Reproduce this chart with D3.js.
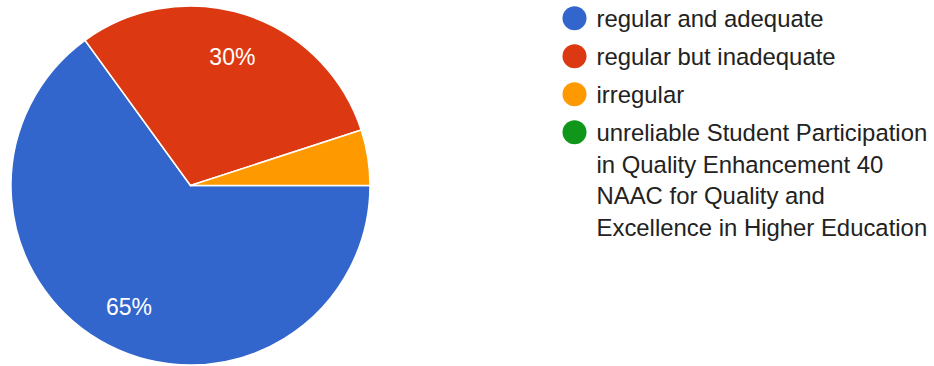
<!DOCTYPE html>
<html><head><meta charset="utf-8">
<script src="https://cdn.jsdelivr.net/npm/d3@7"></script>
<style>body{margin:0;background:#fff}svg{display:block}</style>
</head><body>
<script>
const categories = ["regular and adequate","regular but inadequate","irregular","unreliable Student Participation in Quality Enhancement 40 NAAC for Quality and Excellence in Higher Education"];
const values = [65, 30, 5, 0];
const colors = ["#3366cc","#dc3912","#ff9900","#109618"];
const legendLines = [["regular and adequate"],["regular but inadequate"],["irregular"],["unreliable Student Participation","in Quality Enhancement 40","NAAC for Quality and","Excellence in Higher Education"]];

const W=934,H=366;
const svg=d3.select("body").append("svg").attr("width",W).attr("height",H);
const cx=190.5, cy=185.5, r=179.5;
const font="Arial, 'Liberation Sans', sans-serif";
const pie=d3.pie().sort(null).value(d=>d).startAngle(Math.PI/2).endAngle(Math.PI/2+2*Math.PI);
const arcs=pie(values);
const arc=d3.arc().innerRadius(0).outerRadius(r);
const labelArc=d3.arc().innerRadius(r*0.755).outerRadius(r*0.755);
const g=svg.append("g").attr("transform",`translate(${cx},${cy})`);
g.selectAll("path").data(arcs).join("path")
 .attr("d",arc).attr("fill",(d,i)=>colors[i])
 .attr("stroke","#fff").attr("stroke-width",d=>d.value>0?1.5:0);
g.selectAll("text").data(arcs.filter(d=>d.value>=10)).join("text")
 .attr("transform",d=>`translate(${labelArc.centroid(d)})`)
 .attr("text-anchor","middle").attr("dy","0.36em")
 .attr("font-family",font).attr("font-size",23).attr("fill","#fff")
 .text(d=>d.value+"%");

const lg=svg.append("g");
const entryY=[18.3,56.3,94.3,132.3];
categories.forEach((c,i)=>{
  lg.append("circle").attr("cx",574.5).attr("cy",entryY[i]).attr("r",12).attr("fill",colors[i]);
  const t=lg.append("text").attr("x",596.5).attr("y",entryY[i]+8.7)
   .attr("font-family",font).attr("font-size",23.9).attr("fill","#222");
  legendLines[i].forEach((l,j)=>{
    t.append("tspan").attr("x",596.5).attr("dy",j===0?0:31.7).text(l);
  });
});
</script>
</body></html>
